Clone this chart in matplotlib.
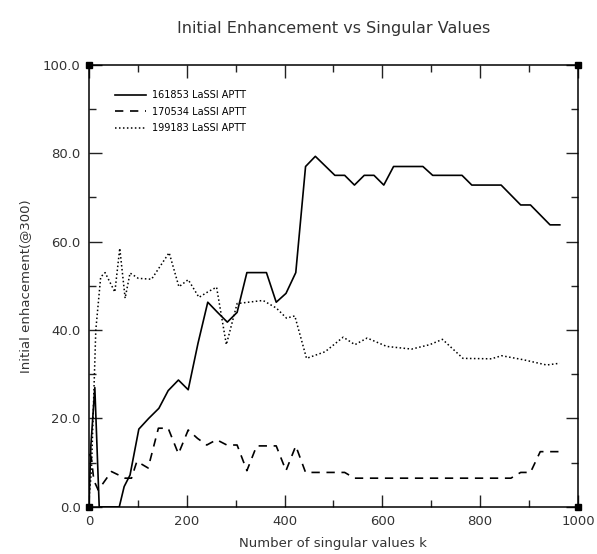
import matplotlib
matplotlib.use("Agg")
from matplotlib import pyplot as plt
from matplotlib.ticker import MultipleLocator, FormatStrFormatter

# 161853 LaSSI APTT
k_161853 = [0, 4, 12, 21, 62, 72, 84, 102, 122, 143, 162, 183, 203, 223, 243, 263, 283, 303,
            323, 343, 363, 383, 403, 423, 443, 463, 503, 523, 543, 563, 583, 603, 623, 683,
            703, 763, 783, 843, 883, 903, 943, 963]
v_161853 = [0, 14, 27, 0, 0, 4.6, 7.2, 17.6, 20, 22.3, 26.3, 28.7, 26.5, 37, 46.3, 44, 41.8, 44,
            53, 53, 53, 46.3, 48.3, 53, 77, 79.3, 75, 75, 72.8, 75, 75, 72.8, 77, 77,
            75, 75, 72.8, 72.8, 68.3, 68.3, 63.8, 63.8]

# 170534 LaSSI APTT
k_170534 = [1, 5, 10, 19, 46, 74, 87, 98, 121, 142, 162, 183, 203, 222, 241, 261, 282, 303,
            323, 343, 383, 403, 423, 443, 523, 543, 863, 883, 903, 923, 963]
v_170534 = [12, 11, 6, 3.8, 8, 6.5, 6.5, 10.3, 8.8, 17.8, 17.8, 12, 17.4, 15.5, 14, 15.2, 14, 14,
            8.2, 13.8, 13.8, 8.2, 13.8, 7.8, 7.8, 6.5, 6.5, 7.8, 7.8, 12.5, 12.5]

# 199183 LaSSI APTT
k_199183 = [1, 5, 14, 24, 33, 53, 63, 74, 84, 101, 128, 164, 184, 203, 225, 244, 261, 281, 303,
            356, 383, 404, 421, 445, 483, 520, 544, 569, 609, 660, 697, 723, 765, 823, 844,
            888, 936, 963]
v_199183 = [3, 8, 40, 52, 53, 48.6, 58.5, 47.2, 52.9, 51.7, 51.5, 57.5, 49.8, 51.4, 47.4, 48.7,
            49.7, 36.7, 46, 46.7, 45, 42.7, 43.2, 33.6, 35.1, 38.4, 36.7, 38.2, 36.3, 35.7,
            36.7, 37.9, 33.6, 33.5, 34.2, 33.3, 32.1, 32.5]

fig = plt.figure(figsize=(5.97, 5.54), dpi=100)
ax = fig.add_axes([0.149, 0.085, 0.819, 0.798])

ax.plot(k_161853, v_161853, color='black', lw=1.2, ls='-', label='161853 LaSSI APTT')
ax.plot(k_170534, v_170534, color='black', lw=1.2, ls=(0, (5, 4)), label='170534 LaSSI APTT')
ax.plot(k_199183, v_199183, color='black', lw=1.1, ls=(0, (1, 1.6)), label='199183 LaSSI APTT')

ax.set_xlim(0, 1000)
ax.set_ylim(0, 100)
ax.xaxis.set_major_locator(MultipleLocator(200))
ax.xaxis.set_minor_locator(MultipleLocator(100))
ax.yaxis.set_major_locator(MultipleLocator(20))
ax.yaxis.set_minor_locator(MultipleLocator(10))
ax.yaxis.set_major_formatter(FormatStrFormatter('%.1f'))
ax.tick_params(which='both', direction='in', top=True, right=True, color='#222222',
               labelsize=9.5, labelcolor='#333333', pad=6)
ax.tick_params(which='major', length=9, width=1)
ax.tick_params(which='minor', length=5, width=1)
for s in ax.spines.values():
    s.set_linewidth(1.1)

# little squares at plot corners
ax.plot([0, 1, 0, 1], [0, 0, 1, 1], 's', color='black', ms=5, transform=ax.transAxes, clip_on=False)

ax.set_xlabel('Number of singular values k', fontsize=9.5, color='#333333', labelpad=6)
ax.set_ylabel('Initial enhacement(@300)', fontsize=9.5, color='#333333', labelpad=8)
fig.text(0.558, 0.948, 'Initial Enhancement vs Singular Values', ha='center', va='center',
         fontsize=11.5, color='#333333')

ax.legend(loc='upper left', frameon=False, fontsize=7, handlelength=3.2, handletextpad=0.6,
          labelspacing=0.65, bbox_to_anchor=(0.035, 0.962))

plt.savefig('out.png', dpi=100)
